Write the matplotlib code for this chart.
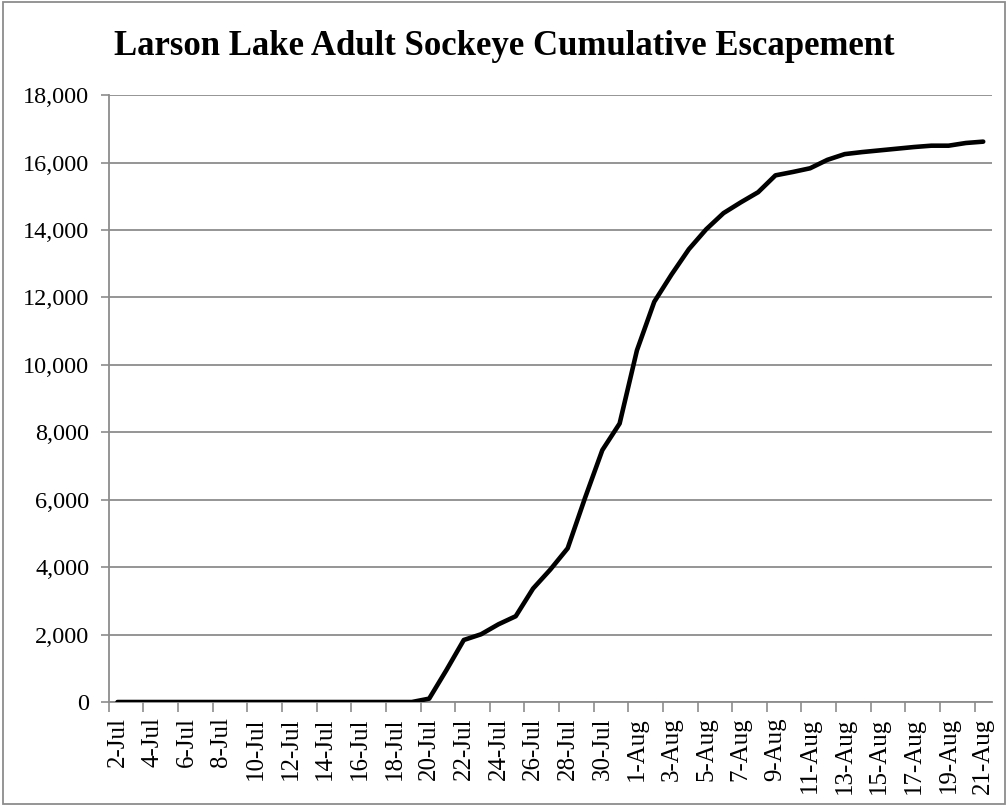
import matplotlib
matplotlib.use("Agg")
import matplotlib.pyplot as plt
from matplotlib.patches import Rectangle
from matplotlib.ticker import FuncFormatter, FixedLocator

# daily counts, 2-Jul through 21-Aug
dates = ["2-Jul", "3-Jul", "4-Jul", "5-Jul", "6-Jul", "7-Jul", "8-Jul", "9-Jul",
         "10-Jul", "11-Jul", "12-Jul", "13-Jul", "14-Jul", "15-Jul", "16-Jul",
         "17-Jul", "18-Jul", "19-Jul", "20-Jul", "21-Jul", "22-Jul", "23-Jul",
         "24-Jul", "25-Jul", "26-Jul", "27-Jul", "28-Jul", "29-Jul", "30-Jul",
         "31-Jul", "1-Aug", "2-Aug", "3-Aug", "4-Aug", "5-Aug", "6-Aug", "7-Aug",
         "8-Aug", "9-Aug", "10-Aug", "11-Aug", "12-Aug", "13-Aug", "14-Aug",
         "15-Aug", "16-Aug", "17-Aug", "18-Aug", "19-Aug", "20-Aug", "21-Aug"]
cumulative = [0, 0, 0, 0, 0, 0, 0, 0, 0, 0, 0, 0, 0, 0, 0, 0, 0, 0,
              100, 950, 1840, 2010, 2305, 2545, 3365, 3930, 4560, 6050, 7470,
              8260, 10430, 11870, 12680, 13430, 14020, 14500, 14820, 15120,
              15620, 15720, 15830, 16080, 16250, 16310, 16360, 16410, 16460,
              16500, 16500, 16580, 16620]

yticks = list(range(0, 18001, 2000))

plt.rcParams['font.family'] = ['Liberation Serif', 'DejaVu Serif']

fig = plt.figure(figsize=(10.08, 8.06), dpi=100)
ax = fig.add_axes([0.108, 0.129, 0.876, 0.753])

x = list(range(len(dates)))
ax.plot(x, cumulative, color='black', linewidth=3.3, solid_joinstyle='round',
        solid_capstyle='round', zorder=3)

ax.set_xlim(-0.5, len(dates) - 0.5)
ax.set_ylim(0, 18000)

# gridlines and y axis
ax.set_yticks(yticks)
ax.yaxis.set_major_formatter(FuncFormatter(lambda v, p: f"{int(v):,}"))
ax.yaxis.grid(True, color='#8c8c8c', linewidth=1.3)
ax.set_axisbelow(True)
ax.tick_params(axis='y', direction='out', length=6, width=1.2, color='#8c8c8c',
               labelsize=17.5, pad=8)

# tick marks between categories, labels on every other date
ax.xaxis.set_major_locator(FixedLocator([i - 0.5 for i in range(0, len(dates), 2)]))
ax.xaxis.set_major_formatter(FuncFormatter(lambda v, p: ""))
ax.xaxis.set_minor_locator(FixedLocator(list(range(0, len(dates), 2))))
ax.set_xticklabels([dates[i] for i in range(0, len(dates), 2)], minor=True,
                   rotation=90, fontsize=18)
ax.tick_params(axis='x', which='major', direction='out', length=7, width=1.2,
               color='#8c8c8c')
ax.tick_params(axis='x', which='minor', length=0, pad=11)

for side in ['top', 'right']:
    ax.spines[side].set_visible(False)
for side in ['left', 'bottom']:
    ax.spines[side].set_color('#8c8c8c')
    ax.spines[side].set_linewidth(1.3)

fig.text(0.5, 0.942, "Larson Lake Adult Sockeye Cumulative Escapement",
         ha='center', va='center', fontsize=25, fontweight='bold')

fig.patches.append(Rectangle((0.003, 0.003), 0.994, 0.994, transform=fig.transFigure,
                             fill=False, edgecolor='#8c8c8c', linewidth=1.3))

fig.savefig("out.png", dpi=100, facecolor='white')
